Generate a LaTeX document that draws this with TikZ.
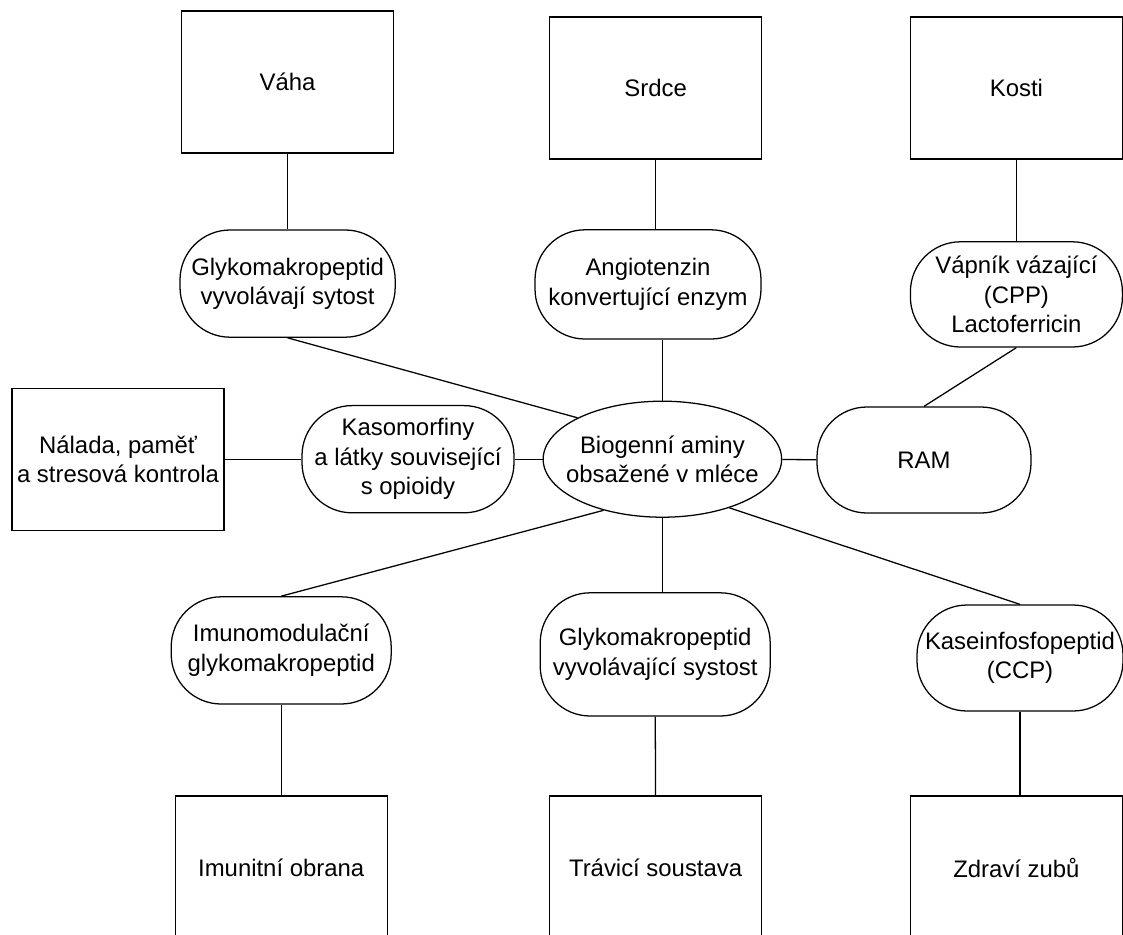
\documentclass[tikz,border=0pt]{standalone}
\usepackage{fontspec}
\setmainfont{Liberation Sans}
\usetikzlibrary{positioning,shapes.geometric}

\begin{document}
\begin{tikzpicture}[
  font=\fontsize{17}{21}\selectfont, line width=0.9pt,
  organ/.style={draw, align=center, inner sep=1pt,
                minimum width=5.3cm, minimum height=3.55cm},
  peptid/.style={draw, rounded corners=1.25cm, align=center, inner sep=1pt,
                 minimum width=5.3cm, minimum height=2.68cm},
  hub/.style={draw, ellipse, align=center, inner xsep=-0.3cm, inner ysep=0pt,
              minimum width=5.68cm, minimum height=2.9cm},
  conn/.style={line width=0.9pt},
]
\useasboundingbox (0,0) rectangle (28.075,-23.375);

\node[organ]  (vaha)     at (7.19,-2.05)   {Váha};
\node[organ]  (srdce)    at (16.39,-2.2)   {Srdce};
\node[organ]  (kosti)    at (25.41,-2.2)   {Kosti};

\node[peptid, minimum width=5.38cm] (glykoA) at (7.19,-7.09) {Glykomakropeptid\\vyvolávají sytost};
\node[peptid, minimum width=5.65cm, minimum height=2.73cm] (angio) at (16.2,-7.11) {Angiotenzin\\konvertující enzym};
\node[peptid, minimum height=2.63cm] (vapnik) at (25.41,-7.36) {Vápník vázající\\(CPP)\\Lactoferricin};

\node[organ]  (nalada)   at (2.95,-11.48)  {Nálada, paměť\\a stresová kontrola};
\node[peptid] (kaso)     at (10.2,-11.48)  {Kasomorfiny\\a látky související\\s opioidy};
\node[hub]    (bio)      at (16.56,-11.48) {Biogenní aminy\\obsažené v mléce};
\node[peptid, minimum width=5.35cm, minimum height=2.65cm] (ram) at (23.1,-11.5) {RAM};

\node[peptid, minimum width=5.5cm] (imuno) at (7.03,-16.26) {Imunomodulační\\glykomakropeptid};
\node[peptid, minimum width=5.75cm, minimum height=3.08cm] (glykoB) at (16.38,-16.36) {Glykomakropeptid\\vyvolávající systost};
\node[peptid, minimum width=5.15cm, minimum height=2.65cm] (kasein) at (25.5,-16.45) {Kaseinfosfopeptid\\(CCP)};

\node[organ, minimum height=3.6cm] (imunitni) at (7.03,-21.7)  {Imunitní obrana};
\node[organ, minimum height=3.6cm] (travici)  at (16.39,-21.7) {Trávicí soustava};
\node[organ, minimum height=3.6cm] (zdravi)   at (25.41,-21.7) {Zdraví zubů};

\draw[conn] (vaha) -- (glykoA); \draw[conn] (srdce.south) -- (srdce.south |- angio.north);
\draw[conn] (kosti) -- (vapnik); \draw[conn] (vapnik.south) -- (ram.north);
\draw[conn] (glykoA.south) -- (bio.154); \draw[conn] (angio.south -| bio.north) -- (bio.north);
\draw[conn] (nalada) -- (kaso); \draw[conn] (kaso) -- (bio);
\draw[conn] (bio) -- (ram);
\draw[conn] (bio.221) -- (imuno.north); \draw[conn] (bio.south) -- (bio.south |- glykoB.north);
\draw[conn] (bio.324) -- (kasein.north);
\draw[conn] (imuno) -- (imunitni); \draw[conn] (glykoB) -- (travici);
\draw[conn] (kasein.south) -- (kasein.south |- zdravi.north);
\end{tikzpicture}
\end{document}
